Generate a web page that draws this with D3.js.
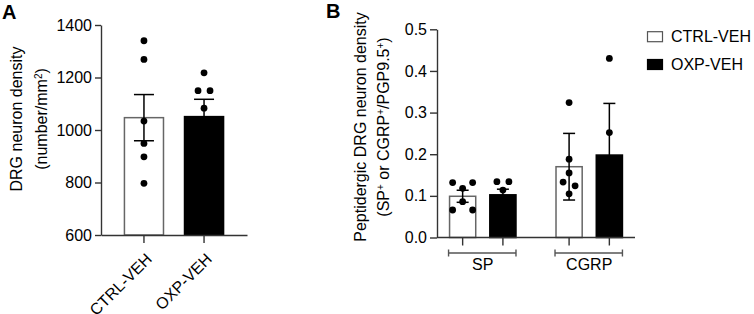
<!DOCTYPE html>
<html>
<head>
<meta charset="utf-8">
<script src="https://cdn.jsdelivr.net/npm/d3@7"></script>
<style>
body { margin: 0; background: #fff; }
svg { font-family: "Liberation Sans", Arial, sans-serif; }
</style>
</head>
<body>
<svg id="chart" width="754" height="314"></svg>
<script>
// Panel A - DRG neuron density (number/mm2)
const groupsA = ["CTRL-VEH", "OXP-VEH"];
const meanA = [1047, 1051];
const semA = [88, 66];
const pointsA = [
    [1340, 1269, 1034, 949, 898, 797],
    [1218, 1150, 1150, 1083]
];
const ticksA = [600, 800, 1000, 1200, 1400];

// Panel B - peptidergic DRG neuron density
const markersB = ["SP", "CGRP"];
const seriesB = ["CTRL-VEH", "OXP-VEH"];
const meanCtrlB = [0.099, 0.170];
const semCtrlB = [0.0145, 0.080];
const meanOxpB = [0.1025, 0.198];
const semOxpB = [0.0135, 0.124];
const pointsCtrlB = [
    [0.132, 0.132, 0.118, 0.086, 0.066, 0.066],
    [0.324, 0.188, 0.155, 0.133, 0.124, 0.105]
];
const pointsOxpB = [
    [0.134, 0.134, 0.114],
    [0.430, 0.252]
];
const ticksB = [0, 0.1, 0.2, 0.3, 0.4, 0.5];

const fills = {"CTRL-VEH": "#fff", "OXP-VEH": "#000"};
const axisColor = "#333";
const dotR = 3.4;

const svg = d3.select("#chart");

// spread dots that sit on about the same value (prism-like scatter)
function swarm(values, y) {
    const pts = values.map(v => ({v: v, py: y(v)})).sort((a, b) => a.py - b.py);
    const rows = [];
    pts.forEach(p => {
        const last = rows[rows.length - 1];
        if (last && Math.abs(p.py - last[0].py) < 4.5) last.push(p);
        else rows.push([p]);
    });
    let wide = false;
    rows.forEach(row => {
        if (row.length > 1) {
            rows.forEach(o => {
                if (o.length === 1 && Math.abs(o[0].py - row[0].py) < 2 * dotR + 0.5) wide = true;
            });
        }
    });
    const h = wide ? 10 : 6;
    rows.forEach(row => row.forEach((p, i) => { p.dx = (i - (row.length - 1) / 2) * h * 2; }));
    return pts;
}

function drawBar(g, cx, w, y0, yv, series) {
    g.append("rect")
        .attr("x", cx - w / 2)
        .attr("y", yv)
        .attr("width", w)
        .attr("height", y0 - yv)
        .attr("fill", fills[series])
        .attr("stroke", series === "OXP-VEH" ? "#000" : "#666")
        .attr("stroke-width", 1.5);
}

function drawErr(g, cx, yLo, yHi, cap) {
    g.append("line").attr("x1", cx).attr("x2", cx).attr("y1", yLo).attr("y2", yHi);
    g.append("line").attr("x1", cx - cap).attr("x2", cx + cap).attr("y1", yLo).attr("y2", yLo);
    g.append("line").attr("x1", cx - cap).attr("x2", cx + cap).attr("y1", yHi).attr("y2", yHi);
    g.selectAll("line").attr("stroke", "#000").attr("stroke-width", 1.5);
}

function drawDots(g, cx, values, y) {
    g.selectAll(null)
        .data(swarm(values, y))
        .enter()
        .append("circle")
        .attr("cx", d => cx + d.dx)
        .attr("cy", d => d.py)
        .attr("r", dotR)
        .attr("fill", "#000");
}

// ---------------- Panel A ----------------
const yA = d3.scaleLinear().domain([600, 1400]).range([235, 25]);
const xA = d3.scaleBand().domain(groupsA).range([101, 247]).paddingInner(0.35).paddingOuter(0.39);

groupsA.forEach((grp, i) => {
    const g = svg.append("g");
    const cx = xA(grp) + xA.bandwidth() / 2;
    drawBar(g, cx, xA.bandwidth(), yA(600), yA(meanA[i]), grp);
    drawErr(g, cx, yA(meanA[i] - semA[i]), yA(meanA[i] + semA[i]), 10);
    drawDots(g, cx, pointsA[i], yA);
});

const axisYA = svg.append("g")
    .attr("transform", "translate(101,0)")
    .call(d3.axisLeft(yA).tickValues(ticksA).tickFormat(d3.format("d")).tickSize(6).tickPadding(3).tickSizeOuter(0));

const axisXA = svg.append("g")
    .attr("transform", "translate(0,235)")
    .call(d3.axisBottom(xA).tickSize(8).tickSizeOuter(0));
axisXA.selectAll("text")
    .attr("x", 0)
    .attr("y", 0)
    .attr("dy", "0.35em")
    .attr("transform", "translate(5,21) rotate(-45)")
    .style("text-anchor", "end");

[axisYA, axisXA].forEach(ax => {
    ax.selectAll("path, line").attr("stroke", axisColor).attr("stroke-width", 1.4);
    ax.selectAll("text").attr("fill", "#000").style("font-size", "16px").style("font-family", "'Liberation Sans', Arial, sans-serif");
});

const titleA = svg.append("text")
    .attr("transform", "translate(16,119) rotate(-90)")
    .attr("text-anchor", "middle")
    .style("font-size", "16px");
titleA.append("tspan").attr("x", 0).attr("dy", "0.35em").text("DRG neuron density");
const titleA2 = svg.append("text")
    .attr("transform", "translate(41,119) rotate(-90)")
    .attr("text-anchor", "middle")
    .style("font-size", "16px");
titleA2.append("tspan").attr("dy", "0.35em").text("(number/mm");
titleA2.append("tspan").attr("dy", "-0.5em").style("font-size", "10px").text("2");
titleA2.append("tspan").attr("dy", "0.32em").text(")");

svg.append("text").attr("x", 2).attr("y", 19).style("font-size", "20px").style("font-weight", "bold").text("A");

// ---------------- Panel B ----------------
const yB = d3.scaleLinear().domain([0, 0.5]).range([237.5, 29.3]);
const x0B = d3.scaleBand().domain(markersB).range([437, 635]).paddingInner(0.376).paddingOuter(0.118);
const x1B = d3.scaleBand().domain(seriesB).range([0, x0B.bandwidth()]).paddingInner(0.35);

const meansB = {"CTRL-VEH": meanCtrlB, "OXP-VEH": meanOxpB};
const semsB = {"CTRL-VEH": semCtrlB, "OXP-VEH": semOxpB};
const ptsB = {"CTRL-VEH": pointsCtrlB, "OXP-VEH": pointsOxpB};

const centersB = [];
markersB.forEach((m, i) => {
    seriesB.forEach(s => {
        const g = svg.append("g");
        const cx = x0B(m) + x1B(s) + x1B.bandwidth() / 2;
        centersB.push(cx);
        const mean = meansB[s][i], sem = semsB[s][i];
        drawBar(g, cx, x1B.bandwidth(), yB(0), yB(mean), s);
        drawErr(g, cx, yB(mean - sem), yB(mean + sem), 6);
        drawDots(g, cx, ptsB[s][i], yB);
    });
});

const axisYB = svg.append("g")
    .attr("transform", "translate(437,0)")
    .call(d3.axisLeft(yB).tickValues(ticksB).tickFormat(d3.format(".1f")).tickSize(7).tickPadding(3).tickSizeOuter(0));
axisYB.selectAll("path, line").attr("stroke", axisColor).attr("stroke-width", 1.4);
axisYB.selectAll("text").attr("fill", "#000").style("font-size", "16px").style("font-family", "'Liberation Sans', Arial, sans-serif");

// x axis baseline and ticks under each bar
svg.append("line")
    .attr("x1", 437).attr("x2", 635)
    .attr("y1", yB(0)).attr("y2", yB(0))
    .attr("stroke", axisColor).attr("stroke-width", 1.4);
svg.selectAll(null)
    .data(centersB)
    .enter()
    .append("line")
    .attr("x1", d => d).attr("x2", d => d)
    .attr("y1", yB(0)).attr("y2", yB(0) + 8)
    .attr("stroke", axisColor).attr("stroke-width", 1.4);

// group brackets
markersB.forEach(m => {
    const g = svg.append("g").attr("stroke", "#555").attr("stroke-width", 1.4);
    const xs = x0B(m) - 1, xe = x0B(m) + x0B.bandwidth();
    g.append("line").attr("x1", xs).attr("x2", xe).attr("y1", 253).attr("y2", 253);
    g.append("line").attr("x1", xs).attr("x2", xs).attr("y1", 249.5).attr("y2", 256.5);
    g.append("line").attr("x1", xe).attr("x2", xe).attr("y1", 249.5).attr("y2", 256.5);
    svg.append("text")
        .attr("x", x0B(m) + x0B.bandwidth() / 2)
        .attr("y", 270)
        .attr("text-anchor", "middle")
        .style("font-size", "16px")
        .text(m);
});

const titleB = svg.append("text")
    .attr("transform", "translate(360,127) rotate(-90)")
    .attr("text-anchor", "middle")
    .style("font-size", "16px");
titleB.append("tspan").attr("dy", "0.35em").text("Peptidergic DRG neuron density");

const titleB2 = svg.append("text")
    .attr("transform", "translate(383,127) rotate(-90)")
    .attr("text-anchor", "middle")
    .style("font-size", "16px");
titleB2.append("tspan").attr("dy", "0.35em").text("(SP");
titleB2.append("tspan").attr("dy", "-0.5em").style("font-size", "10px").text("+");
titleB2.append("tspan").attr("dy", "0.32em").text(" or CGRP");
titleB2.append("tspan").attr("dy", "-0.5em").style("font-size", "10px").text("+");
titleB2.append("tspan").attr("dy", "0.32em").text("/PGP9.5");
titleB2.append("tspan").attr("dy", "-0.5em").style("font-size", "10px").text("+");
titleB2.append("tspan").attr("dy", "0.32em").text(")");

svg.append("text").attr("x", 326).attr("y", 18).style("font-size", "20px").style("font-weight", "bold").text("B");

// legend
const legend = svg.append("g").attr("transform", "translate(647,0)");
seriesB.forEach((s, i) => {
    const cy = 36.7 + i * 27.8;
    legend.append("rect")
        .attr("x", 0.5).attr("y", cy - 5)
        .attr("width", 15).attr("height", 10)
        .attr("fill", fills[s])
        .attr("stroke", s === "OXP-VEH" ? "#000" : "#555")
        .attr("stroke-width", 1.2);
    legend.append("text")
        .attr("x", 24).attr("y", cy)
        .attr("dy", "0.35em")
        .style("font-size", "16px")
        .text(s);
});
</script>
</body>
</html>
